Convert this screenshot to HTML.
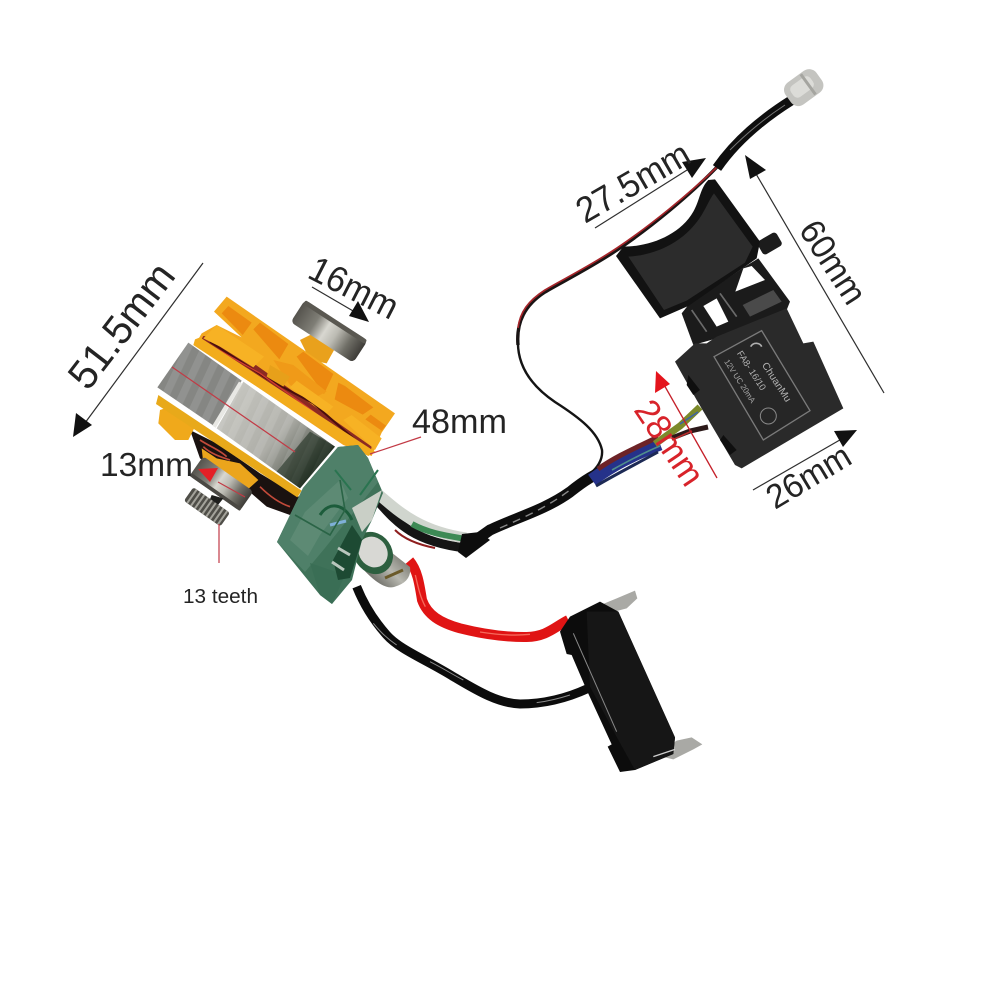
<!DOCTYPE html>
<html><head><meta charset="utf-8"><style>
html,body{margin:0;padding:0;background:#fff}
svg{display:block}
text{font-family:"Liberation Sans",sans-serif;fill:#242424}
</style></head><body>
<svg width="1001" height="1001" viewBox="0 0 1001 1001" xmlns="http://www.w3.org/2000/svg">
<defs>
<pattern id="carbon" width="46" height="46" patternUnits="userSpaceOnUse" patternTransform="rotate(25)">
<rect width="23" height="46" fill="#fff" opacity=".10"/>
</pattern>
<linearGradient id="silver" gradientUnits="userSpaceOnUse" x1="520" y1="440" x2="790" y2="660">
<stop offset="0" stop-color="#c4c4be"/><stop offset=".5" stop-color="#aeaea8"/><stop offset=".78" stop-color="#6f736a"/><stop offset="1" stop-color="#1f2a20"/>
</linearGradient>
<linearGradient id="brg" x1="0" y1="0" x2="1" y2="0">
<stop offset="0" stop-color="#55534d"/><stop offset=".28" stop-color="#7f7e76"/><stop offset=".45" stop-color="#d8d7d0"/><stop offset=".6" stop-color="#bcbbb3"/><stop offset=".8" stop-color="#6f6e66"/><stop offset="1" stop-color="#3e3c38"/>
</linearGradient>
<linearGradient id="cap" gradientUnits="userSpaceOnUse" x1="375" y1="590" x2="410" y2="555">
<stop offset="0" stop-color="#5a5a54"/><stop offset=".5" stop-color="#b8b8b0"/><stop offset="1" stop-color="#6a6a62"/>
</linearGradient>
</defs>
<rect width="1001" height="1001" fill="#fff"/>

<!-- thin LED wire -->
<path d="M717 167C690 195 650 228 617 250C590 268 560 283 545 292C525 305 516 322 518 345" fill="none" stroke="#1a1414" stroke-width="3.4"/>
<path d="M717 167C690 193 650 226 617 248C590 266 560 281 545 290C528 301 520 312 518 328" fill="none" stroke="#a5252a" stroke-width="1.7"/>
<path d="M518 340C517 365 530 385 555 402C580 418 598 432 602 450C603 460 597 468 590 474" fill="none" stroke="#141414" stroke-width="2.4"/>
<!-- LED wire thick -->
<path d="M717 168C735 142 760 120 792 100" fill="none" stroke="#0e0e0e" stroke-width="10"/>
<path d="M730 150C745 135 765 118 785 105" fill="none" stroke="#777" stroke-width="1"/>
<g transform="rotate(-36 804 88)">
<rect x="785" y="74" width="38" height="27" rx="9" fill="#c4c4c0"/>
<rect x="791" y="79" width="24" height="14" rx="5" fill="#dcdcd8"/>
<rect x="808" y="75" width="3" height="25" fill="#a5a5a0"/>
</g>

<!-- main harness -->
<path d="M466 547L490 530C515 518 545 510 570 492C585 480 595 474 610 468" fill="none" stroke="#0d0d0d" stroke-width="11"/>
<path d="M500 528C530 515 550 505 570 490" fill="none" stroke="#888" stroke-width="1.4" stroke-dasharray="8 6"/>
<path d="M592 480C612 465 632 455 660 444" fill="none" stroke="#25328a" stroke-width="13"/>
<path d="M598 469C618 455 638 447 658 437" fill="none" stroke="#6d2327" stroke-width="5"/>
<path d="M596 486C618 473 640 462 658 452" fill="none" stroke="#1d2a55" stroke-width="3"/>
<path d="M612 470C630 460 645 452 660 446" fill="none" stroke="#4f8f8c" stroke-width="1.6"/>
<path d="M655 444L680 426L700 407" fill="none" stroke="#7c8a2a" stroke-width="7"/>
<path d="M672 438L690 431L708 427" fill="none" stroke="#2c1a1a" stroke-width="5"/>
<path d="M680 424L698 412" fill="none" stroke="#3d63a5" stroke-width="1.6"/>
<path d="M672 440L692 431" fill="none" stroke="#b72c2c" stroke-width="1.6"/>

<!-- ribbon from pcb -->
<path d="M372 495C392 515 405 541 466 548" fill="none" stroke="#151515" stroke-width="9"/>
<path d="M368 486C390 502 410 530 466 538" fill="none" stroke="#d0d5ce" stroke-width="11"/>
<path d="M412 524C430 534 450 536 466 539" fill="none" stroke="#3d8a55" stroke-width="6"/>
<path d="M395 530C405 540 420 545 435 548" fill="none" stroke="#8e1e1e" stroke-width="2"/>
<path d="M462 534L480 532L490 540L466 558L458 552Z" fill="#0d0d0d"/>

<!-- microswitch wires + body -->
<g transform="translate(340,500) scale(.33333)">
<path d="M50 260C70 310 100 360 140 405C180 450 260 480 340 530C400 565 470 610 540 612C610 612 680 595 745 565" fill="none" stroke="#0c0c0c" stroke-width="27"/>
<path d="M100 370C120 395 140 415 170 435M270 485C310 505 340 525 370 540M590 608C620 604 650 598 690 585" fill="none" stroke="#8c8c8c" stroke-width="3"/>
<path d="M208 182C232 210 238 250 246 300C262 345 300 368 360 385C420 400 490 412 560 411C620 410 645 380 685 360" fill="none" stroke="#e01414" stroke-width="30"/>
<path d="M226 225C234 260 240 290 256 320M420 396C470 404 520 408 570 403" fill="none" stroke="#f56a5c" stroke-width="4"/>
<path d="M770 320L830 295L885 272L892 295L860 325L785 345Z" fill="#a9a9a5"/>
<path d="M945 765L1010 722L1055 712L1087 733L1060 748L1000 778Z" fill="#a9a9a5"/>
<path d="M660 395L690 350L780 305L835 335L1005 712L1000 762L885 810L840 816L803 740L815 733L740 570L695 465L680 462Z" fill="#0c0c0c"/>
<path d="M740 335L835 335L1005 712L1000 762L885 810L835 720L750 560Z" fill="#161616"/>
<path d="M700 400L830 695" stroke="#8a8a8a" stroke-width="3" fill="none"/>
<path d="M940 770L1005 748" stroke="#cfcfcf" stroke-width="4" fill="none"/>
</g>

<!-- switch -->
<g transform="translate(560,60) scale(.33333)">
<rect x="596" y="528" width="66" height="46" rx="10" fill="#1c1c1c" transform="rotate(-30 628 551)"/>
<!-- rods / carriage -->
<path d="M365 760L385 735L555 620L595 595L690 725L680 750L470 835L400 855Z" fill="#1b1b1b"/>
<path d="M526 695L550 625L575 618L615 660Z" fill="#fff"/>
<path d="M548 735L640 690L665 725L570 770Z" fill="#4a4a4a"/>
<path d="M430 738L470 715L505 785L470 800Z" fill="#fff"/>
<path d="M395 750L440 815M480 700L530 770" stroke="#6a6a6a" stroke-width="5"/>
<!-- trigger -->
<path d="M168 588L190 560C270 560 360 525 400 455C420 420 420 385 445 360L465 358L600 545L590 595L555 620L385 738L300 775Z" fill="#121212"/>
<path d="M205 590C290 585 375 545 425 465C440 440 450 415 462 400L578 560L555 608L380 722L312 750Z" fill="#2c2c2c"/>
<!-- body -->
<path d="M345 905L405 850L440 850L470 830L680 745L730 850L760 845L850 1045L545 1225L525 1215L410 1020Z" fill="#2a2a2a"/>
<path d="M385 945L420 990L400 1005L380 975Z M490 1125L530 1170L510 1185L480 1140Z" fill="#0f0f0f"/>
<path d="M462 890L605 812L750 1052L610 1140Z" fill="#262626" stroke="#7a7a7a" stroke-width="4"/>
<circle cx="625" cy="1068" r="24" fill="none" stroke="#888" stroke-width="3"/>
<text transform="translate(605,915) rotate(57)" style="fill:#b3b3b3;font-size:30px" textLength="135" lengthAdjust="spacingAndGlyphs">ChuanMu</text>
<text transform="translate(530,880) rotate(57)" style="fill:#b3b3b3;font-size:28px" textLength="135" lengthAdjust="spacingAndGlyphs">FA8- 16/10</text>
<text transform="translate(492,905) rotate(57)" style="fill:#a8a8a8;font-size:24px" textLength="150" lengthAdjust="spacingAndGlyphs">12V UC 20mA</text>
<path d="M572 860C580 845 600 848 605 860" stroke="#b0b0b0" stroke-width="5" fill="none"/>
</g>

<!-- motor -->
<g transform="translate(60,250) scale(.33333)">
<!-- top bearing -->
<path d="M720 270L760 250L825 295L800 340L750 330Z" fill="#e9a11c"/>
<g transform="rotate(33 808 243)">
<rect x="696" y="204" width="224" height="80" rx="14" fill="url(#brg)"/>
<rect x="698" y="204" width="220" height="14" rx="6" fill="#5a5851"/>
</g>
<!-- fan backdrop: continuous mass between fan and stator flange -->
<path d="M462 185L500 140L1005 490L965 548L935 618L850 585L405 285L425 250L470 225L545 262Z" fill="#f3a81f"/>
<!-- fan windows -->
<path d="M485 190L505 168L575 218L548 255Z M580 238L600 218L685 282L658 328Z M710 320L730 305L820 372L792 432Z M835 398L855 408L940 472L908 494L824 448Z M932 494L978 527L965 542L916 508Z" fill="#ec8a10"/>
<path d="M640 330L700 345L800 425L760 445L690 405Z" fill="#f09a18"/>
<!-- wire band -->
<path d="M430 258L470 262L935 590L930 612L880 590L415 285Z" fill="#8b2a22"/>
<path d="M450 275L620 385L760 460L920 600" fill="none" stroke="#4a0f0d" stroke-width="6"/>
<path d="M450 285L600 370L740 470L900 590" fill="none" stroke="#cf3a30" stroke-width="4"/>
<!-- upper flange blocks -->
<path d="M430 265L470 225L612 320L580 352L480 290Z" fill="#f7b224"/>
<path d="M690 412L710 392L820 470L800 490Z" fill="#f7b224"/>
<path d="M850 510L875 495L965 565L945 600Z" fill="#f7b224"/>
<path d="M630 345L690 380L670 410L620 380Z" fill="#e7a01a"/>
<path d="M405 268L420 262L945 605L925 618L850 580L400 285Z" fill="#f2ac1c"/>
<!-- stator -->
<path d="M385 278L545 392L465 530L292 412Z" fill="#858683"/>
<path d="M385 278L545 392L465 530L292 412Z" fill="url(#carbon)"/>
<path d="M550 395L825 590L720 715L470 535Z" fill="url(#silver)"/>
<path d="M550 395L825 590L720 715L470 535Z" fill="url(#carbon)"/>
<path d="M542 398L462 530" stroke="#e8e8e4" stroke-width="12"/>
<path d="M825 590L720 715L650 665L750 545Z" fill="#1a2a1b" opacity=".55"/>
<!-- lower windings backing -->
<path d="M390 540L470 580L600 670L725 745L690 795L620 770L540 700L420 625Z" fill="#1a1210"/>
<path d="M420 570C450 590 480 600 500 620M430 590C450 610 480 620 510 630M600 710C630 740 660 760 690 770" fill="none" stroke="#c24a3a" stroke-width="5"/>
<!-- lower flange -->
<path d="M300 480L330 470L405 530L385 570L345 570L295 520Z" fill="#f0a91b"/>
<path d="M295 435L725 722L712 742L288 462Z" fill="#e8a91a"/>
<path d="M425 595L470 625L540 640L595 690L550 730L480 680L430 640Z" fill="#eba51c"/>
<!-- bottom bearing -->
<g transform="rotate(35 485 700)">
<rect x="393" y="665" width="184" height="72" rx="12" fill="url(#brg)"/>
<rect x="393" y="726" width="184" height="11" rx="4" fill="#4a4843"/>
</g>
<path d="M455 735L490 745L470 770L445 760Z" fill="#1e1e1c"/>
<g transform="rotate(35 440 770)">
<rect x="374" y="745" width="134" height="50" rx="8" fill="#4f4e48"/>
<path d="M386 745V795M400 745V795M414 745V795M428 745V795M442 745V795M456 745V795M470 745V795M484 745V795M498 745V795" stroke="#a4a39b" stroke-width="6"/>
</g>
</g>

<!-- capacitor -->
<path d="M368 534L410 567Q412 582 394 587Q382 590 362 568Z" fill="url(#cap)"/>
<ellipse cx="373" cy="553" rx="19" ry="22" fill="#2d5f3f" transform="rotate(-35 373 553)"/>
<ellipse cx="373" cy="552" rx="14" ry="16" fill="#d8d8d4" transform="rotate(-35 373 552)"/>
<path d="M385 578L403 570" stroke="#6b5a2a" stroke-width="3"/>

<!-- PCB -->
<path d="M277 542L303 488L338 447L358 445L368 458L383 493L372 520L362 540L352 580L332 604L320 595Z" fill="#3f7259"/>
<path d="M277 542L303 488L338 447L358 445L368 458L378 482L325 548L305 572Z" fill="#4f8069"/>
<path d="M290 540L305 512L340 480L348 498L320 535L308 556Z" fill="#5d8a74"/>
<path d="M310 563L345 575L332 604L320 595Z" fill="#3a6e55"/>
<path d="M333 560L352 525L362 540L350 578L338 580Z" fill="#1d4a33"/>
<path d="M338 548L350 555M332 562L344 570" stroke="#b9c6bd" stroke-width="3"/>
<path d="M352 508L382 490L372 520L362 532Z" fill="#c9cfc6"/>
<path d="M320 515C330 500 345 505 352 520" stroke="#1c5c3b" stroke-width="3" fill="none"/>
<path d="M330 525L346 521" stroke="#7fb0d8" stroke-width="3"/>
<path d="M295 515L330 535L345 510L340 480" stroke="#2a6446" stroke-width="1.6" fill="none"/>
<path d="M351 490L335 470M378 470L360 495" stroke="#2a7450" stroke-width="2" fill="none"/>

<!-- dimension lines -->
<g fill="none" stroke="#2e2e2e" stroke-width="1.2">
<path d="M203 263L82 427"/>
<path d="M312 287L360 315"/>
<path d="M595 228L695 165"/>
<path d="M884 393L752 167"/>
<path d="M753 490L845 437"/>
</g>
<path d="M73 437L76 413L92 425Z" fill="#111"/>
<path d="M369 322L349 316L358 301Z" fill="#111"/>
<path d="M706 158L692 178L682 162Z" fill="#111"/>
<path d="M745 155L766 170L750 179Z" fill="#111"/>
<path d="M857 430L843 447L834 431Z" fill="#111"/>

<!-- red lines -->
<g fill="none" stroke="#c23a45" stroke-width="1.2">
<path d="M172 367L295 452"/>
<path d="M218 482L245 497"/>
<path d="M219 524V563"/>
<path d="M421 437L370 454"/>
</g>
<path d="M198 469L218 468L210 482Z" fill="#e41f26"/>
<path d="M717 478L663 383" fill="none" stroke="#c5202a" stroke-width="1.3"/>
<path d="M656 371L670 384L655 393Z" fill="#e4141c"/>

<!-- labels -->
<text transform="translate(88,392) rotate(-52.5)" font-size="41" textLength="146" lengthAdjust="spacingAndGlyphs">51.5mm</text>
<text transform="translate(306,277) rotate(27)" font-size="36" textLength="95" lengthAdjust="spacingAndGlyphs">16mm</text>
<text x="412" y="433" font-size="34" textLength="95" lengthAdjust="spacingAndGlyphs">48mm</text>
<text x="100" y="476" font-size="33" textLength="93" lengthAdjust="spacingAndGlyphs">13mm</text>
<text x="183" y="603" font-size="20" textLength="75" lengthAdjust="spacingAndGlyphs">13 teeth</text>
<text transform="translate(585,224) rotate(-30)" font-size="36" textLength="125" lengthAdjust="spacingAndGlyphs">27.5mm</text>
<text transform="translate(798,230) rotate(57)" font-size="35" textLength="92" lengthAdjust="spacingAndGlyphs">60mm</text>
<text transform="translate(775,510) rotate(-31)" font-size="34" textLength="92" lengthAdjust="spacingAndGlyphs">26mm</text>
<text transform="translate(633,410) rotate(56)" style="fill:#d8232a" font-size="35" textLength="95" lengthAdjust="spacingAndGlyphs">28mm</text>
</svg>
</body></html>
